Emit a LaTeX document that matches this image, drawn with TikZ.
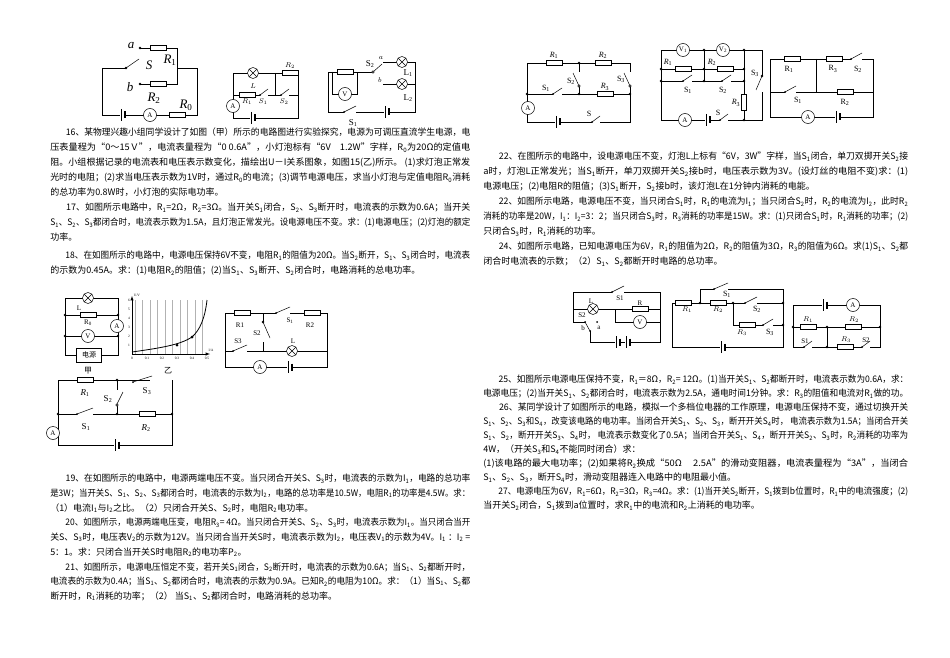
\documentclass[tikz,border=0pt]{standalone}
\usepackage{fontspec}
\usepackage{graphicx}
\setmainfont{Liberation Serif}
\newfontfamily\cjk{Noto Sans CJK SC}
\newcommand\sbs[1]{\textsubscript{#1}}
\newcommand\FL[1]{\resizebox{420pt}{\height}{#1}}
\newcommand\FR[1]{\resizebox{425pt}{\height}{#1}}
\newcommand\Rh[2]{\draw[fill=white] (#1,#2) ++(-8,-2.5) rectangle ++(16,5);}
\newcommand\Rv[2]{\draw[fill=white] (#1,#2) ++(-2.5,-8) rectangle ++(5,16);}
\newcommand\Mtr[3]{\node[circle,draw,fill=white,inner sep=0pt,minimum size=13pt,font=\fontsize{7}{7}\selectfont] at (#1,#2) {#3};}
\newcommand\Lmp[2]{\draw[fill=white] (#1,#2) circle (5.5); \draw (#1,#2) ++(-3.9,-3.9) -- ++(7.8,7.8) ++(0,-7.8) -- ++(-7.8,7.8);}
\newcommand\Bat[2]{\fill[white] (#1,#2) ++(-3,-6) rectangle ++(6,12); \draw (#1,#2) ++(-2,-6) -- ++(0,12); \draw[line width=1.2pt] (#1,#2) ++(2,-3.5) -- ++(0,7);}
\newcommand\Sw[3]{\fill[white] (#1,{#2-1}) rectangle (#3,{#2+1}); \draw (#1,#2) -- (#3,{#2-6}); \fill (#1,#2) circle (1);}
\newcommand\Dot[2]{\fill (#1,#2) circle (1.3);}
\tikzset{txt/.style={anchor=north west,inner sep=0pt,align=left,font=\cjk\fontsize{9}{15}\selectfont},
 lb/.style={inner sep=0pt,font=\fontsize{7}{7}\selectfont},
 bl/.style={inner sep=0pt,font=\fontsize{13}{13}\selectfont\itshape}}
\begin{document}
\begin{tikzpicture}[x=1pt,y=-1pt,line width=0.5pt]
\fill[white] (0,0) rectangle (950,658);
\useasboundingbox (0,0) rectangle (950,658);
% ---------- circuit 1
\draw (102,68) -- (102,115) -- (197,115) -- (197,68) -- (177,68);
\draw (102,68) -- (126,68);
\draw (126,68) -- (139,59);
\Dot{126}{68}
\draw (140,48) -- (177,48) -- (177,84) -- (140,84);
\Dot{140}{48} \Dot{140}{84}
\Rh{158}{48} \Rh{158}{84}
\Bat{123}{115} \Mtr{150}{115}{A} \Rh{177}{115}
\node[bl] at (131,46) {a}; \node[bl] at (149,65) {S}; \node[bl] at (170,60) {R\textsubscript{\upshape1}};
\node[bl] at (130,87) {b}; \node[bl] at (154,98) {R\textsubscript{\upshape2}}; \node[bl] at (186,105) {R\textsubscript{\upshape0}};
% ---------- circuit 2
\draw (233,73) -- (298,73) -- (298,118) -- (233,118) -- (233,73);
\draw (275,73) -- (275,95); \draw (233,95) -- (298,95);
\Lmp{253}{73} \Rh{290}{73} \Rh{247}{95} \Sw{260}{95}{268} \Sw{281}{95}{289}
\Mtr{233}{106}{A} \Bat{253}{118}
\node[lb] at (253,86) {$L$}; \node[lb] at (290,66) {$R_2$}; \node[lb] at (247,102) {$R_1$};
\node[lb] at (263,102) {$S_1$}; \node[lb] at (284,102) {$S_2$};
% ---------- circuit 3
\draw (373,72) -- (328,72) -- (328,112) -- (415,112) -- (415,62) -- (383,62);
\draw (332,72) -- (332,94) -- (357,94) -- (357,72);
\draw (383,84) -- (415,84);
\Rh{345}{72} \Mtr{345}{94}{V}
\draw (373,72) -- (382,64); \draw[fill=white] (373,72) circle (1.3);
\Lmp{402}{62} \Lmp{402}{84}
\Sw{344}{112}{356} \Bat{387}{112}
\node[lb,font=\fontsize{9}{9}\selectfont] at (370,64) {S\sbs2}; \node[lb] at (381,58) {$a$}; \node[lb] at (380,80) {$b$};
\node[lb,font=\fontsize{9}{9}\selectfont] at (408,73) {L\sbs1}; \node[lb,font=\fontsize{9}{9}\selectfont] at (408,98) {L\sbs2};
\node[lb,font=\fontsize{9}{9}\selectfont] at (353,123) {S\sbs1};
% ---------- text blocks
\node[txt] (ta) at (50,128) {\FL{\hspace*{16pt}16、某物理兴趣小组同学设计了如图（甲）所示的电路图进行实验探究，电源为可调压直流学生电源，电}\\
\FL{压表量程为“0～15Ｖ”，电流表量程为“0~0.6A”，小灯泡标有“6V　1.2W”字样，R\sbs0为20Ω的定值电}\\
\FL{阻。小组根据记录的电流表和电压表示数变化，描绘出U－I关系图象，如图15(乙)所示。 (1)求灯泡正常发}\\
\FL{光时的电阻；(2)求当电压表示数为1V时，通过R\sbs0的电流；(3)调节电源电压，求当小灯泡与定值电阻R\sbs0消耗}\\
的总功率为0.8W时，小灯泡的实际电功率。\\
\FL{\hspace*{16pt}17、如图所示电路中，R\sbs1=2Ω，R\sbs2=3Ω。当开关S\sbs1闭合，S\sbs2、S\sbs3断开时，电流表的示数为0.6A；当开关}\\
\FL{S\sbs1、S\sbs2、S\sbs3都闭合时，电流表示数为1.5A，且灯泡正常发光。设电源电压不变。求：(1)电源电压；(2)灯泡的额定}\\
功率。\\[3pt]
\FL{\hspace*{16pt}18、在如图所示的电路中，电源电压保持6V不变，电阻R\sbs1的阻值为20Ω。当S\sbs2断开，S\sbs1、S\sbs3闭合时，电流表}\\
的示数为0.45A。求：(1)电阻R\sbs2的阻值；(2)当S\sbs1、S\sbs3断开、S\sbs2闭合时，电路消耗的总电功率。};
\node[txt,font=\cjk\fontsize{9}{14.7}\selectfont] (tb) at (50,474) {\FL{\hspace*{16pt}19、在如图所示的电路中，电源两端电压不变。当只闭合开关S、S\sbs3时，电流表的示数为I\sbs1，电路的总功率}\\
\FL{是3W；当开关S、S\sbs1、S\sbs2、S\sbs3都闭合时，电流表的示数为I\sbs2，电路的总功率是10.5W，电阻R\sbs1的功率是4.5W。求：}\\
（1）电流I\sbs1与I\sbs2之比。（2）只闭合开关S、S\sbs2时，电阻R\sbs2电功率。\\
\FL{\hspace*{16pt}20、如图所示，电源两端电压变，电阻R\sbs3= 4Ω。当只闭合开关S、S\sbs2、S\sbs3时，电流表示数为I\sbs1。当只闭合当开}\\
\FL{关S、S\sbs3时，电压表V\sbs2的示数为12V。当只闭合当开关S时，电流表示数为I\sbs2，电压表V\sbs1的示数为4V。I\sbs1 ：I\sbs2 =}\\
5：1。求：只闭合当开关S时电阻R\sbs2的电功率P\sbs2。\\
\FL{\hspace*{16pt}21、如图所示，电源电压恒定不变，若开关S\sbs1闭合，S\sbs2断开时，电流表的示数为0.6A；当S\sbs1、S\sbs2都断开时，}\\
\FL{电流表的示数为0.4A；当S\sbs1、S\sbs2都闭合时，电流表的示数为0.9A。已知R\sbs2的电阻为10Ω。求：（1）当S\sbs1、S\sbs2都}\\
断开时，R\sbs1消耗的功率；（2） 当S\sbs1、S\sbs2都闭合时，电路消耗的总功率。};
\node[txt] (tc) at (483,152) {\FR{\hspace*{16pt}22、在图所示的电路中，设电源电压不变，灯泡L上标有“6V，3W”字样，当S\sbs1闭合，单刀双掷开关S\sbs2接}\\
\FR{a时，灯泡L正常发光；当S\sbs1断开，单刀双掷开关S\sbs2接b时，电压表示数为3V。(设灯丝的电阻不变)求：(1)}\\
电源电压；(2)电阻R的阻值；(3)S\sbs1断开，S\sbs2接b时，该灯泡L在1分钟内消耗的电能。\\
\FR{\hspace*{16pt}22、如图所示电路，电源电压不变，当只闭合S\sbs1时，R\sbs1的电流为I\sbs1；当只闭合S\sbs2时，R\sbs2的电流为I\sbs2，此时R\sbs2}\\
\FR{消耗的功率是20W，I\sbs1：I\sbs2=3：2；当只闭合S\sbs3时，R\sbs3消耗的功率是15W。求：(1)只闭合S\sbs1时，R\sbs1消耗的功率；(2)}\\
只闭合S\sbs3时，R\sbs1消耗的功率。\\
\FR{\hspace*{16pt}24、如图所示电路，已知电源电压为6V，R\sbs1的阻值为2Ω，R\sbs2的阻值为3Ω，R\sbs3的阻值为6Ω。求(1)S\sbs1、S\sbs2都}\\
闭合时电流表的示数；（2）S\sbs1、S\sbs2都断开时电路的总功率。};
\node[txt,font=\cjk\fontsize{9}{14}\selectfont] (td) at (483,375) {\FR{\hspace*{16pt}25、如图所示电源电压保持不变，R\sbs1＝8Ω，R\sbs2= 12Ω。(1)当开关S\sbs1、S\sbs2都断开时，电流表示数为0.6A，求：}\\
\FR{电源电压；(2)当开关S\sbs1、S\sbs2都闭合时，电流表示数为2.5A，通电时间1分钟。求：R\sbs3的阻值和电流对R\sbs1做的功。}\\
\FR{\hspace*{16pt}26、某同学设计了如图所示的电路，模拟一个多档位电器的工作原理，电源电压保持不变，通过切换开关}\\
\FR{S\sbs1、S\sbs2、S\sbs3和S\sbs4，改变该电路的电功率。当闭合开关S\sbs1、S\sbs2、S\sbs3，断开开关S\sbs4时， 电流表示数为1.5A；当闭合开关}\\
\FR{S\sbs1、S\sbs2，断开开关S\sbs3、S\sbs4时， 电流表示数变化了0.5A；当闭合开关S\sbs1、S\sbs4，断开开关S\sbs2、S\sbs3时，R\sbs2消耗的功率为}\\
4W，（开关S\sbs3和S\sbs4不能同时闭合）求：\\
\FR{(1)该电路的最大电功率；(2)如果将R\sbs2换成“50Ω　 2.5A”的滑动变阻器，电流表量程为“3A”，当闭合}\\
S\sbs1、S\sbs2、S\sbs3，断开S\sbs4时，滑动变阻器连入电路中的电阻最小值。\\
\FR{\hspace*{16pt}27、电源电压为6V，R\sbs1=6Ω，R\sbs2=3Ω，R\sbs3=4Ω。求：(1)当开关S\sbs2断开，S\sbs1拨到b位置时，R\sbs1中的电流强度；(2)}\\
当开关S\sbs2闭合，S\sbs1拨到a位置时，求R\sbs1中的电流和R\sbs2上消耗的电功率。};
% ---------- circuit 4 (甲)
\draw (65,298) -- (118,298) -- (118,355) -- (102,355); \draw (77,355) -- (65,355) -- (65,298);
\draw (65,315) -- (118,315); \draw (65,336) -- (118,336);
\Lmp{88}{298} \Rh{88}{315} \Mtr{88}{336}{V} \Mtr{117}{326}{A}
\Dot{65}{315} \Dot{118}{315} \Dot{65}{336} \Dot{118}{336}
\node[draw,fill=white,minimum width=25pt,minimum height=14pt,inner sep=0pt,font=\cjk\fontsize{7}{7}\selectfont] (psu) at (89,355) {电源};
\node[lb] at (79,308) {L}; \node[lb] at (88,323) {R\sbs0};
\node[lb,font=\cjk\fontsize{8}{8}\selectfont] at (88,371) {甲};
% ---------- graph (乙)
\draw[gray!60,line width=0.3pt] (132,300) grid[xstep=7.5,ystep=4.5] (207,354);
\draw[-latex] (132,354) -- (210,354); \draw[-latex] (132,354) -- (132,296);
\draw[line width=0.8pt] (132,352) .. controls (160,348) and (180,345) .. (192,337) .. controls (200,330) and (205,318) .. (207,300);
\fill (177,345) circle (1.5); \fill (192,337) circle (1.5);
\foreach \i/\t in {0/0,1/0.1,2/0.2,3/0.3,4/0.4,5/0.5} \node[lb,font=\fontsize{3.5}{4}\selectfont] at (132+15*\i,358) {\t};
\foreach \i in {1,...,6} \node[lb,font=\fontsize{3.5}{4}\selectfont] at (129,354-9*\i) {\i};
\node[lb,font=\fontsize{3.5}{4}\selectfont] at (137,295) {U/V}; \node[lb,font=\fontsize{3.5}{4}\selectfont] at (211,350) {I/A};
\node[lb,font=\cjk\fontsize{8}{8}\selectfont] at (168,371) {乙};
% ---------- circuit 6
\draw (225,313) -- (327,313) -- (327,351); \draw (225,313) -- (225,367) -- (327,367) -- (327,351);
\draw (225,351) -- (327,351);
\draw (263,313) -- (263,351);
\Rh{242}{313} \Sw{276}{313}{290} \Rh{312}{313}
\fill[white] (262,322) rectangle (264,342); \draw (263,322) -- (270,338); \Dot{263}{322}
\Sw{233}{351}{247} \Lmp{292}{351} \Mtr{260}{367}{A} \Bat{290}{367}
\node[lb] at (240,325) {R1}; \node[lb] at (257,333) {S2}; \node[lb] at (290,321) {S\sbs1}; \node[lb] at (310,325) {R2};
\node[lb] at (238,341) {S3}; \node[lb] at (293,341) {L};
% ---------- circuit 7
\draw (58,380) -- (167,380); \draw (172,380) -- (172,445) -- (58,445) -- (58,380);
\draw (58,414) -- (172,414); \draw (117,380) -- (117,414);
\Rh{85}{380} \Sw{133}{382}{152} \fill[white] (150,378) rectangle (170,382);
\fill[white] (116,390) rectangle (118,404); \draw (117,404) -- (123,392); \draw[fill=white] (117,405) circle (1.3);
\Sw{77}{414}{93} \Rh{147}{414} \Dot{58}{414} \Dot{117}{414} \Dot{117}{380} \Dot{172}{414}
\Mtr{53}{433}{A} \Bat{117}{445}
\node[lb,font=\fontsize{9}{9}\selectfont\itshape] at (85,393) {R\textsubscript{\upshape 1}};
\node[lb,font=\fontsize{9}{9}\selectfont] at (147,391) {S\sbs3};
\node[lb,font=\fontsize{9}{9}\selectfont] at (108,399) {S\sbs2};
\node[lb,font=\fontsize{9}{9}\selectfont] at (86,427) {S\sbs1};
\node[lb,font=\fontsize{9}{9}\selectfont\itshape] at (146,428) {R\textsubscript{\upshape 2}};
% ---------- circuit 8
\draw (527,63) -- (630,63) -- (630,122) -- (527,122) -- (527,63);
\draw (527,94) -- (630,94); \draw (579,63) -- (579,94);
\Rh{554}{63} \Rh{603}{63} \Sw{553}{94}{562} \Rh{605}{94}
\fill[white] (578,72) rectangle (580,86); \draw (579,86) -- (573,73); \draw[fill=white] (579,86) circle (1.2);
\fill[white] (629,72) rectangle (631,86); \draw (630,86) -- (624,73); \draw[fill=white] (630,86) circle (1.2);
\Dot{527}{94} \Dot{579}{94} \Dot{630}{94} \Dot{579}{63}
\Mtr{528}{108}{A} \Bat{558}{122} \Sw{592}{122}{600}
\node[lb,font=\fontsize{8}{8}\selectfont\itshape] at (554,55) {R\textsubscript{\upshape1}};
\node[lb,font=\fontsize{8}{8}\selectfont\itshape] at (603,55) {R\textsubscript{\upshape2}};
\node[lb,font=\fontsize{8}{8}\selectfont\itshape] at (605,87) {R\textsubscript{\upshape3}};
\node[lb,font=\fontsize{8}{8}\selectfont] at (546,88) {S\sbs1}; \node[lb,font=\fontsize{8}{8}\selectfont] at (571,81) {S\sbs2};
\node[lb,font=\fontsize{8}{8}\selectfont] at (621,79) {S\sbs3}; \node[lb,font=\fontsize{8}{8}\selectfont] at (589,114) {S};
% ---------- circuit 9
\draw (661,50) -- (762,50) -- (762,120) -- (661,120) -- (661,50);
\draw (661,69) -- (744,69); \draw (661,81) -- (744,81);
\draw (704,50) -- (704,81); \draw (744,50) -- (744,120);
\Mtr{683}{50}{V\sbs1} \Mtr{723}{50}{V\sbs2}
\Rh{683}{69} \Rh{725}{69} \Sw{683}{81}{692} \Sw{722}{81}{731}
\Rv{744}{102}
\fill[white] (761,76) rectangle (763,92); \draw (762,76) -- (756,90); \Dot{762}{76}
\foreach \p in {(661,69),(661,81),(704,50),(704,69),(704,81),(744,50),(744,69),(744,81),(744,120)} \fill \p circle (1.3);
\Mtr{685}{120}{A} \Bat{708}{120} \Sw{720}{120}{728}
\node[lb,font=\fontsize{8}{8}\selectfont\itshape] at (668,62) {R\textsubscript{\upshape1}};
\node[lb,font=\fontsize{8}{8}\selectfont\itshape] at (712,62) {R\textsubscript{\upshape2}};
\node[lb,font=\fontsize{8}{8}\selectfont\itshape] at (736,103) {R\textsubscript{\upshape3}};
\node[lb,font=\fontsize{8}{8}\selectfont] at (688,90) {S\sbs1}; \node[lb,font=\fontsize{8}{8}\selectfont] at (723,90) {S\sbs2};
\node[lb,font=\fontsize{8}{8}\selectfont] at (755,73) {S\sbs3}; \node[lb,font=\fontsize{8}{8}\selectfont] at (718,113) {S};
% ---------- circuit 10
\draw (770,59) -- (873,59) -- (873,117) -- (770,117) -- (770,59);
\draw (770,92) -- (873,92); \draw (816,59) -- (816,92);
\Rh{792}{59} \Rh{834}{59} \Sw{851}{59}{862} \Sw{785}{92}{796} \Rh{845}{92}
\Mtr{808}{117}{A} \Bat{838}{117}
\node[lb,font=\fontsize{8}{8}\selectfont] at (789,69) {R\sbs1}; \node[lb,font=\fontsize{8}{8}\selectfont] at (833,69) {R\sbs3};
\node[lb,font=\fontsize{8}{8}\selectfont] at (858,69) {S\sbs2}; \node[lb,font=\fontsize{8}{8}\selectfont] at (798,100) {S\sbs1};
\node[lb,font=\fontsize{8}{8}\selectfont] at (845,102) {R\sbs2};
% ---------- circuit 11
\draw (573,322) -- (573,292) -- (660,292) -- (660,342) -- (590,342) -- (590,331);
\draw (573,309) -- (660,309); \draw (615,309) -- (615,322) -- (660,322);
\draw (573,322) -- (585,322);
\Sw{612}{292}{624} \Lmp{593}{309} \Rh{640}{309} \Mtr{640}{322}{V}
\draw (590,331) -- (585,322); \fill (590,331) circle (1); \fill (585,322) circle (1); \fill (597,322) circle (1);
\Bat{618}{342} \Bat{628}{342}
\node[lb,font=\fontsize{7}{7}\selectfont] at (620,298) {S1}; \node[lb] at (591,301) {L}; \node[lb] at (640,303) {R};
\node[lb] at (582,315) {S2}; \node[lb] at (599,328) {a}; \node[lb] at (583,328) {b};
% ---------- circuit 12
\draw (700,303) -- (700,289) -- (783,289) -- (783,347) -- (672,347) -- (672,303) -- (783,303);
\draw (733,303) -- (733,325) -- (783,325);
\Sw{714}{289}{728} \Rh{683}{303} \Rh{718}{303} \Sw{745}{303}{757} \Rh{747}{325} \Sw{763}{325}{773}
\Dot{700}{303} \Dot{733}{303} \Dot{783}{303} \Dot{783}{325}
\Bat{723}{347}
\node[lb] at (687,310) {$R_1$}; \node[lb,font=\fontsize{8}{8}\selectfont] at (727,294) {S\sbs1};
\node[lb] at (718,310) {$R_2$}; \node[lb,font=\fontsize{8}{8}\selectfont] at (757,309) {S\sbs2};
\node[lb] at (742,333) {$R_3$}; \node[lb,font=\fontsize{8}{8}\selectfont] at (770,332) {S\sbs3};
% ---------- circuit 13
\draw (793,305) -- (880,305) -- (880,347) -- (793,347) -- (793,305);
\draw (793,327) -- (880,327); \draw (827,327) -- (827,347);
\Bat{825}{305} \Mtr{853}{305}{A}
\Rh{808}{327} \Rh{853}{327} \Sw{804}{347}{812} \Rh{845}{347} \Sw{862}{347}{870}
\Dot{827}{327} \Dot{827}{347} \Dot{793}{327} \Dot{880}{327}
\node[lb] at (808,320) {$R_1$}; \node[lb] at (854,320) {$R_2$}; \node[lb] at (846,340) {$R_3$};
\node[lb] at (805,341) {S1}; \node[lb] at (866,340) {S2};
\end{tikzpicture}
\end{document}
